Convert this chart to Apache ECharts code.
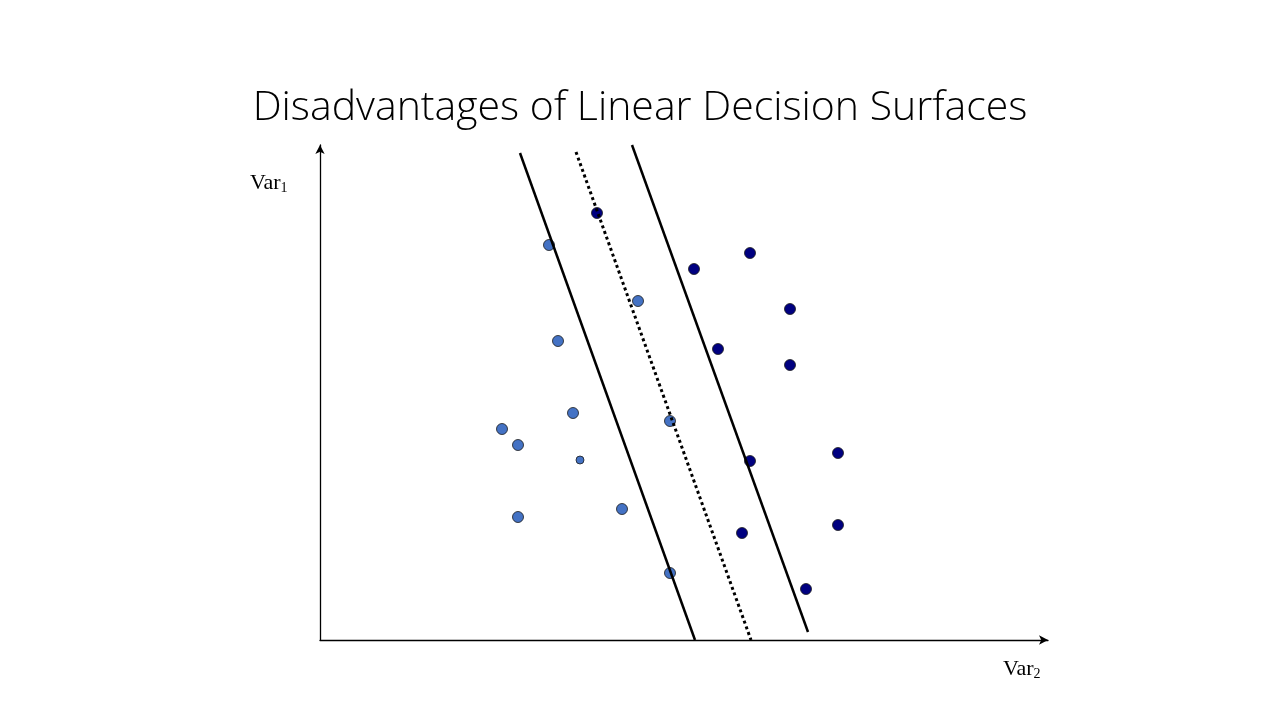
<!DOCTYPE html>
<html><head><meta charset="utf-8">
<script src="https://cdn.jsdelivr.net/npm/echarts@6/dist/echarts.min.js"></script>
<style>html,body{margin:0;background:#fff}#c{width:1280px;height:720px}</style>
</head><body><div id="c"></div>
<script>
const lightPoints = [[229,395],[238,299],[253,227],[182,211],[198,195],[198,123],[302,131],[318,339],[350,219],[350,67]];
const lightSmall = [[260,180]];
const darkPoints = [[277,427],[374,371],[430,387],[470,331],[398,291],[470,275],[430,179],[518,187],[518,115],[422,107],[486,51]];
const leftMargin = [[200,487],[375,0]];
const boundary = [[256,488],[431,0]];
const rightMargin = [[312,495],[488,8]];

const chart = echarts.init(document.getElementById('c'));
const axisLine = {show:true, symbol:['none','arrow'], symbolSize:[7,9], lineStyle:{color:'#000', width:1.3}};
chart.setOption({
  animation:false,
  title:{text:'Disadvantages of Linear Decision Surfaces', left:'center', top:83,
    textStyle:{fontFamily:'Open Sans', fontWeight:300, fontSize:41, color:'#000'}},
  grid:{left:320, right:232, top:145, bottom:80},
  xAxis:{type:'value', min:0, max:728, axisLine, axisTick:{show:false}, axisLabel:{show:false}, splitLine:{show:false}},
  yAxis:{type:'value', min:0, max:495, axisLine, axisTick:{show:false}, axisLabel:{show:false}, splitLine:{show:false}},
  graphic:[
    {type:'text', left:250, top:172, style:{rich:{a:{fontFamily:'Liberation Serif', fontSize:22, fill:'#000'}, s:{fontFamily:'Liberation Serif', fontSize:14, fill:'#000', verticalAlign:'bottom', padding:[10,0,0,0]}}, text:'{a|Var}{s|1}'}},
    {type:'text', left:1003, top:658, style:{rich:{a:{fontFamily:'Liberation Serif', fontSize:22, fill:'#000'}, s:{fontFamily:'Liberation Serif', fontSize:14, fill:'#000', verticalAlign:'bottom', padding:[10,0,0,0]}}, text:'{a|Var}{s|2}'}}
  ],
  series:[
    {type:'line', data:leftMargin, symbol:'none', lineStyle:{color:'#000', width:2.5}},
    {type:'line', data:boundary, symbol:'none', lineStyle:{color:'#000', width:3, type:[3,3]}},
    {type:'line', data:rightMargin, symbol:'none', lineStyle:{color:'#000', width:2.5}},
    {type:'scatter', data:lightPoints, symbolSize:11, itemStyle:{color:'#4472C4', borderColor:'#1a1a1a', borderWidth:0.8, opacity:1}},
    {type:'scatter', data:lightSmall, symbolSize:8, itemStyle:{color:'#4472C4', borderColor:'#1a1a1a', borderWidth:0.8, opacity:1}},
    {type:'scatter', data:darkPoints, symbolSize:11, itemStyle:{color:'#000080', borderColor:'#1a1a1a', borderWidth:0.8, opacity:1}}
  ]
});
</script></body></html>
